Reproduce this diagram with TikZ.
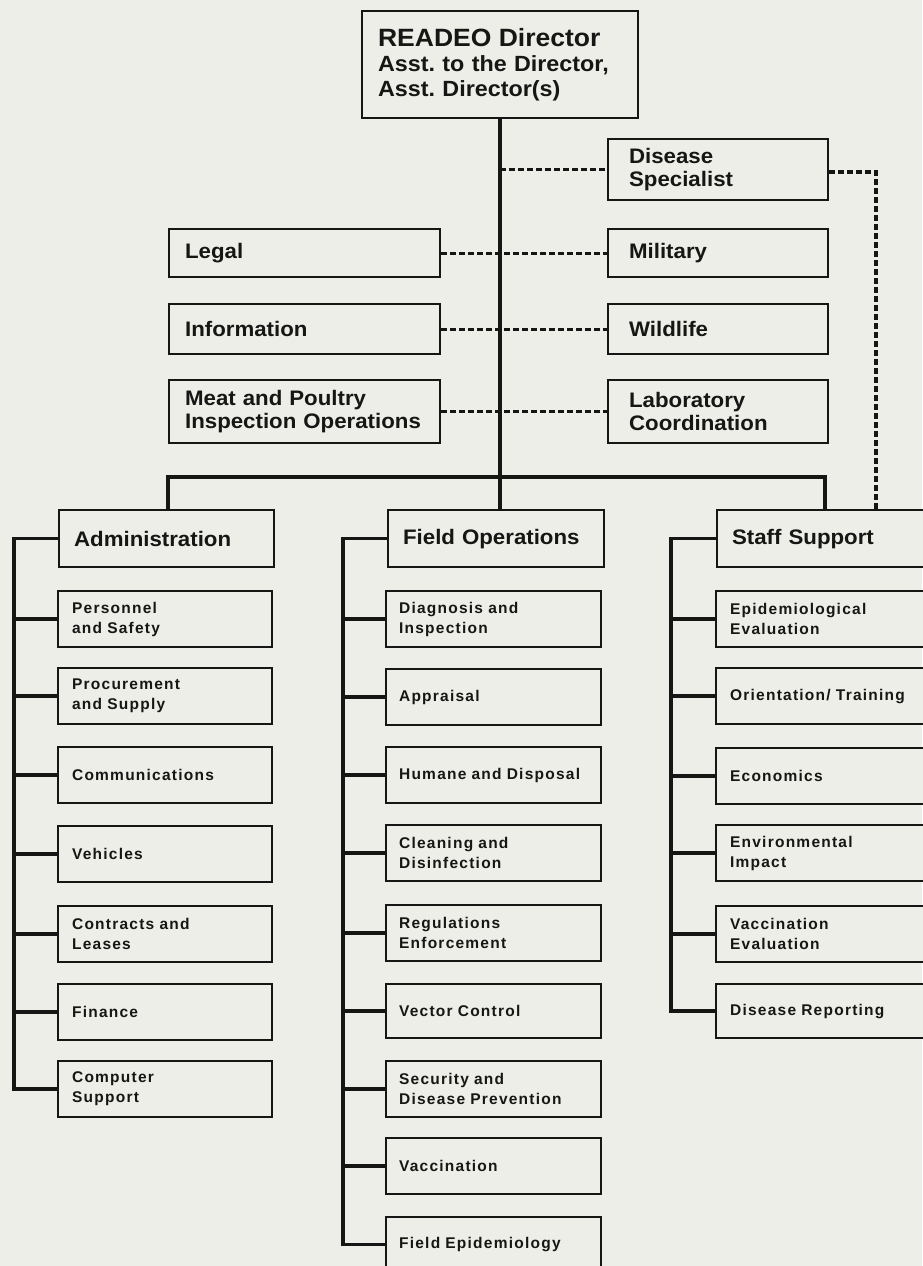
\documentclass[tikz,border=0pt]{standalone}
\usepackage{fontspec}
\setmainfont{Liberation Sans}
\newfontfamily\hdfont[FakeStretch=1.06]{Liberation Sans}
\newfontfamily\subfont[LetterSpace=8]{Liberation Sans}
\definecolor{bg}{RGB}{237,238,232}
\definecolor{ink}{RGB}{22,22,20}
\frenchspacing
\begin{document}
\begin{tikzpicture}[x=1pt,y=-1pt,
  obox/.style={draw=ink, line width=2.2pt, fill=bg, anchor=north west, align=left, inner ysep=0pt, text=ink},
  hd/.style={obox, font=\hdfont\bfseries\fontsize{21}{23}\selectfont},
  lcol/.style={hd, inner xsep=16pt, text width=239pt},
  rcol/.style={hd, inner xsep=21pt, text width=178pt},
  dept/.style={hd, inner xsep=15pt, minimum height=57pt},
  subbox/.style={obox, font=\subfont\bfseries\fontsize{15.5}{20}\selectfont, inner xsep=14pt, minimum height=56pt},
  solidln/.style={draw=ink, line width=3.6pt},
  dashln/.style={draw=ink, line width=3.2pt, dash pattern=on 6pt off 3pt}]
\fill[bg] (0,0) rectangle (922,1266);
\useasboundingbox (0,0) rectangle (922,1266);

% top
\node[hd, inner xsep=16pt, text width=244pt, minimum height=107pt, font=\hdfont\bfseries\fontsize{22}{25}\selectfont] (dir) at (361,10)
  {{\fontsize{25}{27}\selectfont READEO Director}\\Asst. to the Director,\\Asst. Director(s)};

% upper staff boxes
\node[rcol, minimum height=61pt] (dis) at (607,138) {Disease\\Specialist};
\node[lcol, minimum height=48pt] (legal) at (168,228) {Legal};
\node[rcol, minimum height=48pt] (mil) at (607,228) {Military};
\node[lcol, minimum height=50pt] (info) at (168,303) {Information};
\node[rcol, minimum height=50pt] (wild) at (607,303) {Wildlife};
\node[lcol, minimum height=63pt] (meat) at (168,379) {Meat and Poultry\\Inspection Operations};
\node[rcol, minimum height=63pt] (lab) at (607,379) {Laboratory\\Coordination};

% departments
\node[dept, text width=185pt] (adm) at (58,509) {Administration};
\node[dept, text width=186pt] (fld) at (387,509) {Field Operations};
\node[dept, text width=179pt] (stf) at (716,509) {Staff Support};

% trunk and bus
\coordinate (busL) at (168,477);
\coordinate (busR) at (825,477);
\draw[solidln] (dir.south) -- (dir.south |- fld.north);
\draw[solidln] (adm.north -| busL) -- (busL) -- (busR) -- (stf.north -| busR);

% dashed links
\draw[dashln] (dir.south |- dis.west) -- (dis.west);
\draw[dashln] (legal.east) -- (mil.west);
\draw[dashln] (info.east) -- (wild.west);
\draw[dashln] (meat.east) -- (lab.west);
\coordinate (dcol) at (876,172);
\draw[dashln] (dis.east |- dcol) -- (dcol) -- (stf.north -| dcol);

% administration column
\node[subbox, text width=186pt] (a1) at (57,590) {Personnel\\and Safety};
\node[subbox, text width=186pt] (a2) at (57,667) {Procurement\\and Supply};
\node[subbox, text width=186pt] (a3) at (57,746) {Communications};
\node[subbox, text width=186pt] (a4) at (57,825) {Vehicles};
\node[subbox, text width=186pt] (a5) at (57,905) {Contracts and\\Leases};
\node[subbox, text width=186pt] (a6) at (57,983) {Finance};
\node[subbox, text width=186pt] (a7) at (57,1060) {Computer\\Support};
\draw[solidln] (adm.west) -- ++(-44,0) |- (a7.west);
\foreach \n in {a1,a2,a3,a4,a5,a6} \draw[solidln] (\n.west) -- ++(-44,0);

% field operations column
\node[subbox, text width=189pt, inner xsep=13pt] (f1) at (385,590) {Diagnosis and\\Inspection};
\node[subbox, text width=189pt, inner xsep=13pt] (f2) at (385,668) {Appraisal};
\node[subbox, text width=189pt, inner xsep=13pt] (f3) at (385,746) {Humane and Disposal};
\node[subbox, text width=189pt, inner xsep=13pt] (f4) at (385,824) {Cleaning and\\Disinfection};
\node[subbox, text width=189pt, inner xsep=13pt] (f5) at (385,904) {Regulations\\Enforcement};
\node[subbox, text width=189pt, inner xsep=13pt, minimum height=54pt] (f6) at (385,983) {Vector Control};
\node[subbox, text width=189pt, inner xsep=13pt] (f7) at (385,1060) {Security and\\Disease Prevention};
\node[subbox, text width=189pt, inner xsep=13pt] (f8) at (385,1137) {Vaccination};
\node[subbox, text width=189pt, inner xsep=13pt, minimum height=55pt] (f9) at (385,1216) {Field Epidemiology};
\draw[solidln] (fld.west) -- ++(-44,0) |- (f9.west);
\foreach \n in {f1,f2,f3,f4,f5,f6,f7,f8} \draw[solidln] (\n.west) -- ++(-42,0);

% staff support column
\node[subbox, text width=182pt] (s1) at (715,590) {Epidemiological\\Evaluation};
\node[subbox, text width=182pt] (s2) at (715,667) {Orientation/ Training};
\node[subbox, text width=182pt] (s3) at (715,747) {Economics};
\node[subbox, text width=182pt] (s4) at (715,824) {Environmental\\Impact};
\node[subbox, text width=182pt] (s5) at (715,905) {Vaccination\\Evaluation};
\node[subbox, text width=182pt, minimum height=54pt] (s6) at (715,983) {Disease Reporting};
\draw[solidln] (stf.west) -- ++(-45,0) |- (s6.west);
\foreach \n in {s1,s2,s3,s4,s5} \draw[solidln] (\n.west) -- ++(-44,0);
\end{tikzpicture}
\end{document}
